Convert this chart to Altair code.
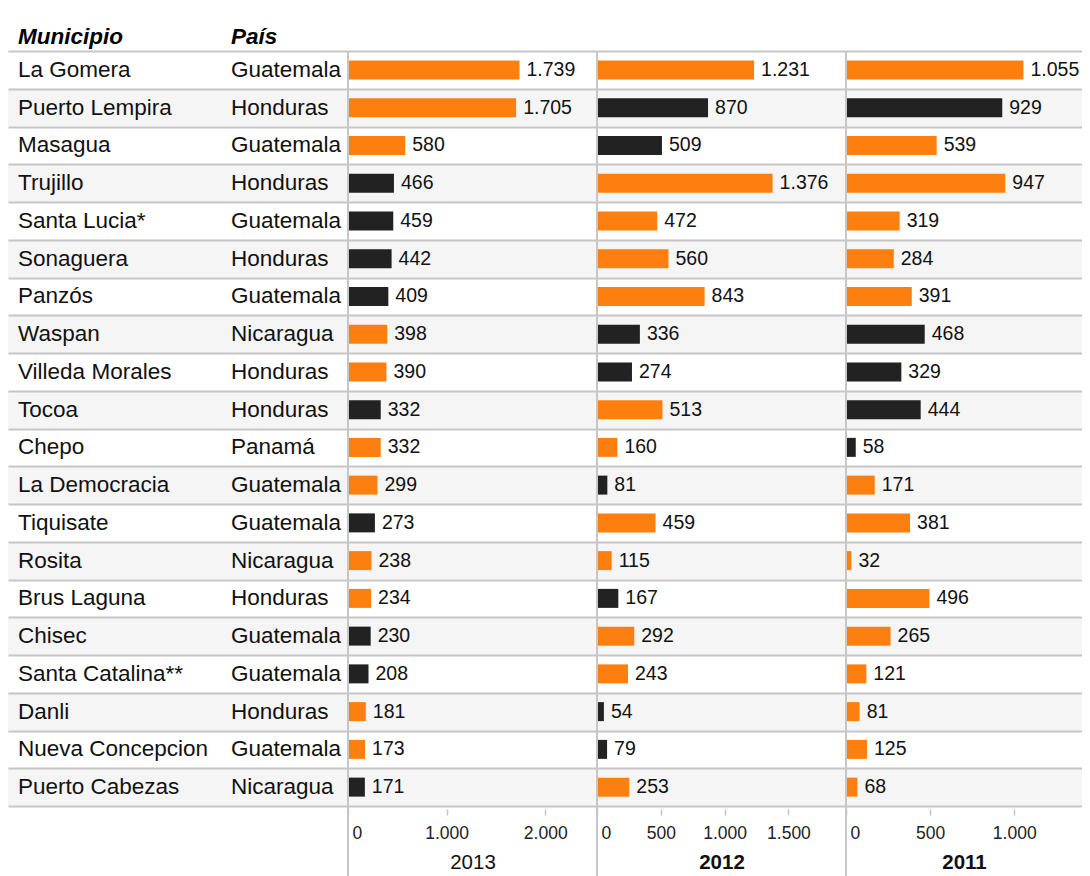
import altair as alt
import pandas as pd

# ---------------- data ----------------
municipios = ["La Gomera", "Puerto Lempira", "Masagua", "Trujillo", "Santa Lucia*",
              "Sonaguera", "Panzós", "Waspan", "Villeda Morales", "Tocoa", "Chepo",
              "La Democracia", "Tiquisate", "Rosita", "Brus Laguna", "Chisec",
              "Santa Catalina**", "Danli", "Nueva Concepcion", "Puerto Cabezas"]
paises = ["Guatemala", "Honduras", "Guatemala", "Honduras", "Guatemala", "Honduras",
          "Guatemala", "Nicaragua", "Honduras", "Honduras", "Panamá", "Guatemala",
          "Guatemala", "Nicaragua", "Honduras", "Guatemala", "Guatemala", "Honduras",
          "Guatemala", "Nicaragua"]
v2013 = [1739, 1705, 580, 466, 459, 442, 409, 398, 390, 332, 332, 299, 273, 238, 234, 230, 208, 181, 173, 171]
v2012 = [1231, 870, 509, 1376, 472, 560, 843, 336, 274, 513, 160, 81, 459, 115, 167, 292, 243, 54, 79, 253]
v2011 = [1055, 929, 539, 947, 319, 284, 391, 468, 329, 444, 58, 171, 381, 32, 496, 265, 121, 81, 125, 68]
# change vs previous year: S = sube (orange), B = baja (dark)
c2013 = ["S", "S", "S", "B", "B", "B", "B", "S", "S", "B", "S", "S", "B", "S", "S", "B", "B", "S", "S", "B"]
c2012 = ["S", "B", "B", "S", "S", "S", "S", "B", "B", "S", "S", "B", "S", "S", "B", "S", "S", "B", "B", "S"]
c2011 = ["S", "B", "S", "S", "S", "S", "S", "B", "B", "B", "B", "S", "S", "S", "S", "S", "S", "S", "S", "S"]
years = ["2013", "2012", "2011"]
ticks = {"2013": [0, 1000, 2000], "2012": [0, 500, 1000, 1500], "2011": [0, 500, 1000]}
headers = ["Municipio", "País"]

# ---------------- styling ----------------
FONT = "Liberation Sans"
ORANGE = "#fd7f10"
DARK = "#222222"
GRID = "#c6c6c6"
ALT_BG = "#f5f5f5"
H = 755
domains = {"2013": 2525, "2012": 1951, "2011": 1403}
widths = {"2013": 249, "2012": 249, "2011": 236}
bold_title = {"2013": "normal", "2012": "bold", "2011": "bold"}

rows = []
for yr, vals, cols in zip(years, [v2013, v2012, v2011], [c2013, c2012, c2011]):
    for i, (m, p, v, c) in enumerate(zip(municipios, paises, vals, cols)):
        rows.append({"Municipio": m, "País": p, "Año": yr, "Valor": v, "Cambio": c,
                     "Fila": "impar" if i % 2 else "par",
                     "Etiqueta": f"{v:,}".replace(",", ".")})
df = pd.DataFrame(rows)

yaxis = alt.Axis(grid=True, tickBand="extent", labels=False, ticks=False, domain=False,
                 title=None, gridColor=GRID, gridWidth=2, zindex=1)
yenc = alt.Y("Municipio:N", scale=alt.Scale(domain=municipios, paddingInner=0, paddingOuter=0),
             axis=yaxis)


def background(data, width):
    return alt.Chart(data).transform_filter(alt.datum.Fila == "impar").mark_rect(
        color=ALT_BG).encode(y=yenc, x=alt.value(0), x2=alt.value(width))


# text panel
tdata = df[df["Año"] == "2013"]
TW = 340
t_bg = background(tdata, TW)
t_mun = alt.Chart(tdata).mark_text(align="left", baseline="middle", font=FONT, fontSize=22.5,
                                   color="#111111").encode(y=yenc, x=alt.value(10), text="Municipio:N")
t_pais = alt.Chart(tdata).mark_text(align="left", baseline="middle", font=FONT, fontSize=22.5,
                                    color="#111111").encode(y=yenc, x=alt.value(223), text="País:N")
h1 = alt.Chart(pd.DataFrame({"t": [headers[0]]})).mark_text(
    align="left", baseline="middle", font=FONT, fontSize=22.5, fontWeight="bold",
    fontStyle="italic", color="#000000").encode(x=alt.value(10), y=alt.value(-14), text="t:N")
h2 = alt.Chart(pd.DataFrame({"t": [headers[1]]})).mark_text(
    align="left", baseline="middle", font=FONT, fontSize=22.5, fontWeight="bold",
    fontStyle="italic", color="#000000").encode(x=alt.value(223), y=alt.value(-14), text="t:N")
text_panel = alt.layer(t_bg, t_mun, t_pais, h1, h2).properties(width=TW, height=H)


def panel(yr):
    d = df[df["Año"] == yr]
    w = widths[yr]
    xaxis = alt.Axis(values=ticks[yr],
                     labelExpr="replace(format(datum.value, ','), ',', '.')",
                     title=yr, titleFontWeight=bold_title[yr], titleFont=FONT, titleFontSize=20.5,
                     titleColor="#111111", titlePadding=11,
                     labelFont=FONT, labelFontSize=17.5, labelColor="#222222", labelPadding=9,
                     labelFlush=True, labelFlushOffset=-4, offset=3, tickSize=6, tickColor=GRID,
                     tickWidth=1.5, domain=False, grid=False)
    xenc = alt.X("Valor:Q", scale=alt.Scale(domain=[0, domains[yr]], nice=False, zero=True),
                 axis=xaxis)
    bg = background(d, w)
    bars = alt.Chart(d).mark_bar(size=19).encode(
        y=yenc, x=xenc,
        color=alt.Color("Cambio:N", scale=alt.Scale(domain=["S", "B"], range=[ORANGE, DARK]),
                        legend=None))
    labels = alt.Chart(d).mark_text(align="left", baseline="middle", dx=7, font=FONT,
                                    fontSize=19.5, color="#111111").encode(
        y=yenc, x=xenc, text="Etiqueta:N")
    rule = alt.Chart(d).mark_rule(color=GRID, strokeWidth=2).encode(
        x=alt.value(0), y=alt.value(0), y2=alt.value(H + 72))
    return alt.layer(bg, bars, labels, rule).properties(width=w, height=H)


chart = alt.hconcat(text_panel, panel("2013"), panel("2012"), panel("2011"),
                    spacing=0, bounds="flush").properties(
    padding={"left": 0, "right": 0, "top": 18, "bottom": 0}
).configure(font=FONT).configure_view(stroke="transparent", strokeWidth=0)

chart.save("out.html", embed_options={"renderer": "svg", "actions": False})
